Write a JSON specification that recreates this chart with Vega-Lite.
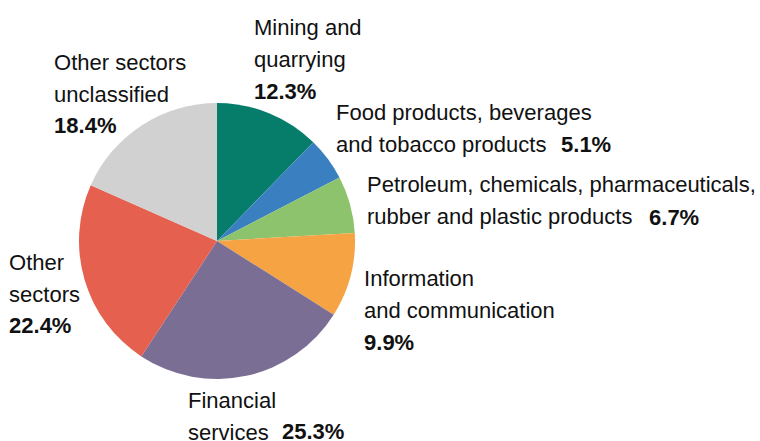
{
  "$schema": "https://vega.github.io/schema/vega-lite/v6.json",
  "width": 434,
  "height": 276,
  "autosize": {"type": "none"},
  "padding": {"top": 103, "left": 0, "right": 326, "bottom": 62},
  "background": "white",
  "view": {"stroke": null},
  "config": {
    "text": {"font": "Liberation Sans, Arial, sans-serif", "fontSize": 22, "lineHeight": 32, "lineBreak": "\n", "align": "left", "baseline": "alphabetic", "color": "#111111", "radius": 150}
  },
  "data": {
    "values": [
      {"sector": "Mining and quarrying", "label": "Mining and\nquarrying", "pct": "12.3%", "share": 12.3, "rank": 1},
      {"sector": "Food products, beverages and tobacco products", "label": "Food products, beverages\nand tobacco products", "pct": "5.1%", "share": 5.1, "rank": 2},
      {"sector": "Petroleum, chemicals, pharmaceuticals, rubber and plastic products", "label": "Petroleum, chemicals, pharmaceuticals,\nrubber and plastic products", "pct": "6.7%", "share": 6.7, "rank": 3},
      {"sector": "Information and communication", "label": "Information\nand communication", "pct": "9.9%", "share": 9.9, "rank": 4},
      {"sector": "Financial services", "label": "Financial\nservices", "pct": "25.3%", "share": 25.3, "rank": 5},
      {"sector": "Other sectors", "label": "Other\nsectors", "pct": "22.4%", "share": 22.4, "rank": 6},
      {"sector": "Other sectors unclassified", "label": "Other sectors\nunclassified", "pct": "18.4%", "share": 18.4, "rank": 7}
    ]
  },
  "encoding": {
    "theta": {"field": "share", "type": "quantitative", "stack": true},
    "order": {"field": "rank", "type": "quantitative"}
  },
  "layer": [
    {
      "mark": {"type": "arc"},
      "encoding": {
        "color": {
          "field": "sector", "type": "nominal", "legend": null,
          "scale": {
            "domain": ["Mining and quarrying", "Food products, beverages and tobacco products", "Petroleum, chemicals, pharmaceuticals, rubber and plastic products", "Information and communication", "Financial services", "Other sectors", "Other sectors unclassified"],
            "range": ["#067c6b", "#3a80c1", "#8dc36d", "#f6a443", "#7a6e95", "#e5604f", "#d1d1d1"]
          }
        }
      }
    },
    {"mark": {"type": "text", "dx": -19.5, "dy": -67}, "encoding": {"text": {"condition": {"test": "datum.rank === 1", "field": "label"}, "value": ""}}},
    {"mark": {"type": "text", "dx": -19.5, "dy": -3, "fontWeight": "bold"}, "encoding": {"text": {"condition": {"test": "datum.rank === 1", "field": "pct"}, "value": ""}}},
    {"mark": {"type": "text", "dx": -1.4, "dy": -31.6}, "encoding": {"text": {"condition": {"test": "datum.rank === 2", "field": "label"}, "value": ""}}},
    {"mark": {"type": "text", "dx": 223.6, "dy": 0.4, "fontWeight": "bold"}, "encoding": {"text": {"condition": {"test": "datum.rank === 2", "field": "pct"}, "value": ""}}},
    {"mark": {"type": "text", "dx": 5.4, "dy": -9.2}, "encoding": {"text": {"condition": {"test": "datum.rank === 3", "field": "label"}, "value": ""}}},
    {"mark": {"type": "text", "dx": 287.4, "dy": 23.8, "fontWeight": "bold"}, "encoding": {"text": {"condition": {"test": "datum.rank === 3", "field": "pct"}, "value": ""}}},
    {"mark": {"type": "text", "dx": 1.8, "dy": 7.5}, "encoding": {"text": {"condition": {"test": "datum.rank === 4", "field": "label"}, "value": ""}}},
    {"mark": {"type": "text", "dx": 1.8, "dy": 71.5, "fontWeight": "bold"}, "encoding": {"text": {"condition": {"test": "datum.rank === 4", "field": "pct"}, "value": ""}}},
    {"mark": {"type": "text", "dx": -60.8, "dy": 20.4}, "encoding": {"text": {"condition": {"test": "datum.rank === 5", "field": "label"}, "value": ""}}},
    {"mark": {"type": "text", "dx": 33.2, "dy": 51.4, "fontWeight": "bold"}, "encoding": {"text": {"condition": {"test": "datum.rank === 5", "field": "pct"}, "value": ""}}},
    {"mark": {"type": "text", "dx": -64.1, "dy": -13.5}, "encoding": {"text": {"condition": {"test": "datum.rank === 6", "field": "label"}, "value": ""}}},
    {"mark": {"type": "text", "dx": -64.1, "dy": 49.5, "fontWeight": "bold"}, "encoding": {"text": {"condition": {"test": "datum.rank === 6", "field": "pct"}, "value": ""}}},
    {"mark": {"type": "text", "dx": -81, "dy": -45}, "encoding": {"text": {"condition": {"test": "datum.rank === 7", "field": "label"}, "value": ""}}},
    {"mark": {"type": "text", "dx": -81, "dy": 18, "fontWeight": "bold"}, "encoding": {"text": {"condition": {"test": "datum.rank === 7", "field": "pct"}, "value": ""}}}
  ]
}
